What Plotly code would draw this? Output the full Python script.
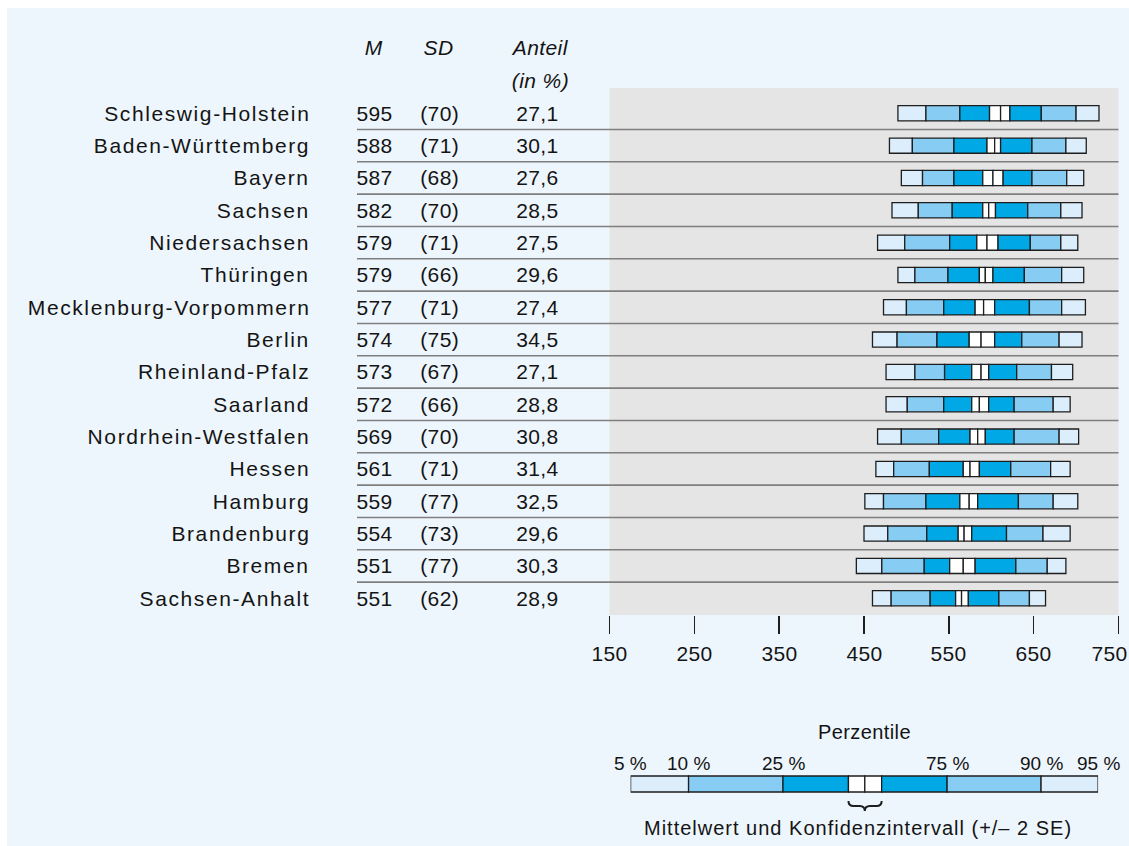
import json
import plotly.graph_objects as go

# ---------------- data ----------------
states = ["Schleswig-Holstein", "Baden-Württemberg", "Bayern", "Sachsen", "Niedersachsen",
          "Thüringen", "Mecklenburg-Vorpommern", "Berlin", "Rheinland-Pfalz", "Saarland",
          "Nordrhein-Westfalen", "Hessen", "Hamburg", "Brandenburg", "Bremen", "Sachsen-Anhalt"]
M_values = [595, 588, 587, 582, 579, 579, 577, 574, 573, 572, 569, 561, 559, 554, 551, 551]
SD_values = [70, 71, 68, 70, 71, 66, 71, 75, 67, 66, 70, 71, 77, 73, 77, 62]
anteil = ["27,1", "30,1", "27,6", "28,5", "27,5", "29,6", "27,4", "34,5", "27,1", "28,8",
          "30,8", "31,4", "32,5", "29,6", "30,3", "28,9"]

# percentile bands as drawn
p05 = [490, 480, 494, 483, 466, 490, 473, 460, 476, 476, 466, 464, 451, 450, 441, 460]
p10 = [523, 507, 519, 514, 498, 510, 500, 489, 510, 501, 494, 485, 473, 478, 471, 482]
p25 = [563, 556, 556, 554, 551, 549, 544, 536, 545, 544, 538, 527, 523, 524, 521, 528]
ci_low = [598, 595, 590, 590, 583, 586, 581, 574, 577, 577, 575, 567, 563, 561, 551, 558]
mean_drawn = [611, 604, 602, 597, 595, 593, 591, 588, 588, 586, 584, 575, 574, 568, 567, 565]
ci_high = [622, 611, 614, 605, 608, 602, 604, 604, 597, 597, 593, 586, 584, 577, 581, 573]
p75 = [659, 648, 648, 643, 646, 639, 645, 636, 630, 627, 627, 623, 632, 618, 629, 609]
p90 = [700, 688, 689, 682, 682, 683, 683, 680, 671, 673, 680, 670, 673, 661, 666, 645]
p95 = [727, 712, 709, 707, 702, 709, 711, 707, 696, 693, 703, 693, 702, 693, 688, 664]

x_ticks = [150, 250, 350, 450, 550, 650, 750]
x_ticklabels = ["150", "250", "350", "450", "550", "650", "750"]

# legend key (position along the key bar, 0-100)
legend_pos = [0, 12.4, 32.6, 46.6, 50.1, 53.7, 67.7, 87.8, 100]
legend_labels = ["5 %", "10 %", "25 %", "", "", "", "75 %", "90 %", "95 %"]

# ---------------- styling ----------------
W, H = 1129, 846
PANEL = "#EEF6FD"
GREY = "#E5E5E5"
LIGHT = "#DCEEFB"
MID = "#87CDF3"
DARK = "#00A8E6"
WHITE = "#FFFFFF"
EDGE = "#1E1E1E"
TXT = "#141414"
FONT = "Liberation Sans, Arial, sans-serif"


def px_x(p):
    return p / W


def px_y(p):
    return 1 - p / H


rows = list(range(len(states)))
bounds = [p05, p10, p25, ci_low, mean_drawn, ci_high, p75, p90, p95]
seg_colors = [LIGHT, MID, DARK, WHITE, WHITE, DARK, MID, LIGHT]

fig = go.Figure()

for k, col in enumerate(seg_colors):
    start = bounds[k]
    end = bounds[k + 1]
    fig.add_trace(go.Bar(
        y=rows, x=[e - s for s, e in zip(start, end)], base=start,
        orientation="h", width=0.47,
        marker=dict(color=col, line=dict(color=EDGE, width=1.3)),
        hoverinfo="skip", showlegend=False, xaxis="x", yaxis="y"))

# legend key bar
for k, col in enumerate(seg_colors):
    fig.add_trace(go.Bar(
        y=[0], x=[legend_pos[k + 1] - legend_pos[k]], base=[legend_pos[k]],
        orientation="h", width=1.0,
        marker=dict(color=col, line=dict(color=EDGE, width=1.3)),
        hoverinfo="skip", showlegend=False, xaxis="x2", yaxis="y2"))

shapes = []
# white outer strips (top / left)
shapes.append(dict(type="rect", xref="paper", yref="paper", x0=0, x1=px_x(7), y0=0, y1=1,
                   fillcolor="white", line=dict(width=0), layer="below"))
shapes.append(dict(type="rect", xref="paper", yref="paper", x0=0, x1=1, y0=px_y(8), y1=1,
                   fillcolor="white", line=dict(width=0), layer="below"))
# grey plotting field
shapes.append(dict(type="rect", xref="x domain", yref="y domain", x0=0, x1=1, y0=0, y1=1,
                   fillcolor=GREY, line=dict(width=0), layer="below"))
# row separators
for i in rows[:-1]:
    shapes.append(dict(type="line", xref="paper", yref="y", x0=px_x(357), x1=px_x(1118.5),
                       y0=i + 0.5, y1=i + 0.5, line=dict(color="#7F7F7F", width=1.6),
                       layer="below"))
# brace under the confidence interval in the key
bx0, bxm, bx1 = legend_pos[3], legend_pos[4], legend_pos[5]
yt, yb = -1.0625, -1.6875
ym = (yt + yb) / 2
r = 1.1
brace = (f"M {bx0},{yt} Q {bx0},{ym} {bx0 + r},{ym} L {bxm - r},{ym} "
         f"Q {bxm},{ym} {bxm},{yb} Q {bxm},{ym} {bxm + r},{ym} L {bx1 - r},{ym} "
         f"Q {bx1},{ym} {bx1},{yt}")
shapes.append(dict(type="path", xref="x2", yref="y2", path=brace,
                   line=dict(color=EDGE, width=2)))

ann = []
fs = 21
for i, name in enumerate(states):
    ann.append(dict(text=name, xref="paper", yref="y", x=px_x(312), y=i,
                    xanchor="right", yanchor="middle", align="right", showarrow=False,
                    font=dict(size=fs, color=TXT)))
    ann.append(dict(text=str(M_values[i]), xref="paper", yref="y", x=px_x(374), y=i,
                    xanchor="center", yanchor="middle", showarrow=False,
                    font=dict(size=fs, color=TXT)))
    ann.append(dict(text=f"({SD_values[i]})", xref="paper", yref="y", x=px_x(439), y=i,
                    xanchor="center", yanchor="middle", showarrow=False,
                    font=dict(size=fs, color=TXT)))
    ann.append(dict(text=anteil[i], xref="paper", yref="y", x=px_x(537), y=i,
                    xanchor="center", yanchor="middle", showarrow=False,
                    font=dict(size=fs, color=TXT)))

for txt, xp, yp in [("<i>M</i>", 374, 47), ("<i>SD</i>", 438, 47),
                    ("<i>Anteil</i>", 540, 47), ("<i>(in %)</i>", 540, 80)]:
    ann.append(dict(text=txt, xref="paper", yref="paper", x=px_x(xp), y=px_y(yp),
                    xanchor="center", yanchor="middle", showarrow=False,
                    font=dict(size=fs, color=TXT)))

# x tick labels (the last one kept inside the canvas, as in the original)
for t, lab in zip(x_ticks, x_ticklabels):
    ann.append(dict(text=lab, xref="x", yref="paper", x=t, y=px_y(653),
                    xanchor="center", yanchor="middle", showarrow=False,
                    xshift=-9 if t == x_ticks[-1] else 0,
                    font=dict(size=fs, color=TXT)))

ann.append(dict(text="Perzentile", xref="x2", yref="paper", x=legend_pos[4], y=px_y(732),
                xanchor="center", yanchor="middle", showarrow=False,
                font=dict(size=20, color=TXT)))
for pos, lab in zip(legend_pos, legend_labels):
    if lab:
        ann.append(dict(text=lab, xref="x2", yref="paper", x=pos, y=px_y(763),
                        xanchor="center", yanchor="middle", showarrow=False,
                        font=dict(size=19, color=TXT)))
ann.append(dict(text="Mittelwert und Konfidenzintervall (+/– 2 SE)", xref="paper", yref="paper",
                x=px_x(858), y=px_y(828), xanchor="center", yanchor="middle", showarrow=False,
                font=dict(size=20, color=TXT)))

fig.update_layout(
    width=W, height=H, margin=dict(l=0, r=0, t=0, b=0),
    paper_bgcolor=PANEL, plot_bgcolor="rgba(0,0,0,0)",
    font=dict(family=FONT, size=fs, color=TXT),
    barmode="overlay", bargap=0,
    shapes=shapes, annotations=ann,
    xaxis=dict(domain=[px_x(609.5), px_x(1118.5)], range=[150, 750], tickvals=x_ticks,
               showticklabels=False, ticks="outside", ticklen=18,
               tickwidth=1.5, tickcolor=EDGE, showgrid=False, zeroline=False,
               showline=False, anchor="y"),
    yaxis=dict(domain=[px_y(615), px_y(88)], range=[15.518, -0.783], visible=False,
               anchor="x"),
    xaxis2=dict(domain=[px_x(630.6), px_x(1098.1)], range=[0, 100], visible=False,
                anchor="y2"),
    yaxis2=dict(domain=[px_y(815), px_y(770)], range=[-1.9375, 0.875], visible=False,
                anchor="x2"),
)

post = """
document.documentElement.style.margin = '0';
document.documentElement.style.padding = '0';
document.body.style.margin = '0';
document.body.style.padding = '0';
document.body.style.overflow = 'hidden';
var gd = document.getElementById('{plot_id}');
var NAMES = %s;
function track(){
  gd.querySelectorAll('text.annotation-text').forEach(function(t){
    var s = t.textContent;
    var sp = '0.4px';
    if (NAMES.indexOf(s) >= 0) sp = '1.6px';
    else if (s.indexOf('Mittelwert') === 0) sp = '1px';
    else if (s.indexOf('%%') >= 0 && s.length <= 4) sp = '0px';
    t.style.letterSpacing = sp;
  });
}
track();
gd.on('plotly_afterplot', track);
""" % json.dumps(states)

fig.write_html("out.html", post_script=post,
               config={"displayModeBar": False, "staticPlot": True})
